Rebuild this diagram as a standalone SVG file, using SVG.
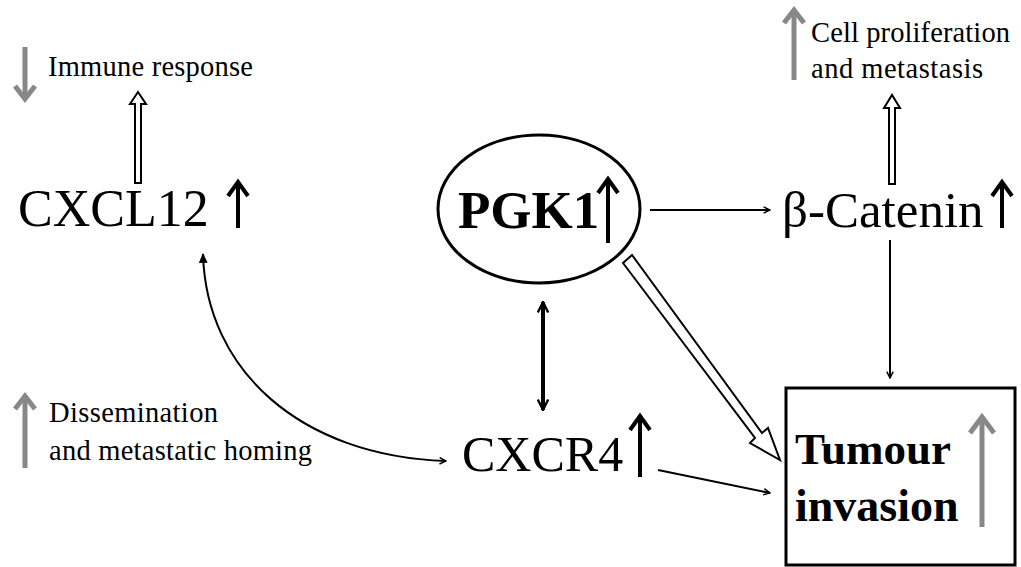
<svg xmlns="http://www.w3.org/2000/svg" width="1021" height="567" viewBox="0 0 1021 567">
<style>
.t{font-family:"Liberation Serif","Times New Roman",serif;fill:#000}
.s{font-size:28.5px}
.ln{stroke:#000;stroke-width:2;fill:none}
.up{stroke:#000;stroke-width:4;fill:none}
.gr{stroke:#888;stroke-width:5;fill:none}
.hol{stroke:#000;stroke-width:2;fill:#fff;stroke-linejoin:miter}
</style>
<defs>
<marker id="ah" viewBox="0 0 10 10" refX="9" refY="5" markerWidth="8" markerHeight="8" orient="auto-start-reverse" markerUnits="userSpaceOnUse">
<path d="M1,1 L9,5 L1,9" fill="none" stroke="#000" stroke-width="1.8"/>
</marker>
<marker id="ahb" viewBox="0 0 10 10" refX="9" refY="5" markerWidth="13" markerHeight="13" orient="auto-start-reverse" markerUnits="userSpaceOnUse">
<path d="M1,1 L9,5 L1,9" fill="none" stroke="#000" stroke-width="1.8"/>
</marker>
<marker id="ahf" viewBox="0 0 10 10" refX="8" refY="5" markerWidth="11" markerHeight="11" orient="auto-start-reverse" markerUnits="userSpaceOnUse">
<path d="M0,1 L9,5 L0,9 Z" fill="#000"/>
</marker>
</defs>

<g id="immune">
<line class="gr" x1="25" y1="47" x2="25" y2="98"/>
<path d="M15,86 L25,99 L35,86" class="gr"/>
<text class="t s" x="48" y="76" textLength="205" lengthAdjust="spacing">Immune response</text>
</g>

<g id="cxcl12">
<text class="t" x="18" y="226" font-size="52">CXCL12</text>
<line class="up" x1="238" y1="228" x2="238" y2="184"/>
<path d="M228,196 L238,182 L248,196" class="up"/>
</g>

<g id="pgk1">
<ellipse cx="539" cy="209" rx="101" ry="74" fill="#fff" stroke="#000" stroke-width="3"/>
<text class="t" x="458" y="228" font-size="53" font-weight="bold">PGK1</text>
<line class="up" x1="608" y1="243" x2="608" y2="181"/>
<path d="M598,193 L608,179 L618,193" class="up"/>
</g>

<g id="catenin">
<text class="t" x="782" y="227" font-size="51">β-Catenin</text>
<line class="up" x1="1002" y1="228" x2="1002" y2="184"/>
<path d="M992,196 L1002,182 L1012,196" class="up"/>
</g>

<g id="prolif">
<line class="gr" x1="794" y1="80" x2="794" y2="12"/>
<path d="M784,23 L794,10 L804,23" class="gr"/>
<text class="t s" x="811" y="42" textLength="199" lengthAdjust="spacing">Cell proliferation</text>
<text class="t s" x="811" y="78" textLength="172" lengthAdjust="spacing">and metastasis</text>
</g>

<g id="dissem">
<line class="gr" x1="25" y1="468" x2="25" y2="398"/>
<path d="M15,409 L25,396 L35,409" class="gr"/>
<text class="t s" x="49" y="422" textLength="169" lengthAdjust="spacing">Dissemination</text>
<text class="t s" x="49" y="460" textLength="263" lengthAdjust="spacing">and metastatic homing</text>
</g>

<g id="cxcr4">
<text class="t" x="462" y="471" font-size="50">CXCR4</text>
<line class="up" x1="640" y1="477" x2="640" y2="418"/>
<path d="M630,430 L640,416 L650,430" class="up"/>
</g>

<g id="tumour">
<rect x="786" y="388" width="229" height="177" fill="#fff" stroke="#000" stroke-width="3"/>
<text class="t" x="795" y="464" font-size="45" font-weight="bold">Tumour</text>
<text class="t" x="795" y="521" font-size="46" font-weight="bold">invasion</text>
<line class="gr" x1="982" y1="527" x2="982" y2="418" stroke-width="6"/>
<path d="M970,433 L982,417 L994,433" class="gr" stroke-width="6"/>
</g>

<g id="connectors">
<path class="hol" d="M135,183 L135,104 L130,104 L138,92 L146,104 L141,104 L141,183 Z"/>
<path class="hol" d="M889,184 L889,108 L884,108 L892,95 L900,108 L895,108 L895,184 Z"/>
<line class="ln" x1="650" y1="210" x2="770" y2="210" marker-end="url(#ah)"/>
<line class="ln" x1="890" y1="240" x2="890" y2="378" marker-end="url(#ah)"/>
<line class="up" x1="543" y1="302" x2="543" y2="410" stroke-width="3" marker-start="url(#ahb)" marker-end="url(#ahb)"/>
<line class="ln" x1="658" y1="470" x2="770" y2="493" marker-end="url(#ah)"/>
<path class="ln" d="M203,254 C206,370 300,456 446,461" marker-start="url(#ahf)" marker-end="url(#ah)"/>
<path class="hol" d="M623,263 L632,255 L762,433 L768,428 L780,460 L750,443 L755,438 Z"/>
</g>
</svg>
